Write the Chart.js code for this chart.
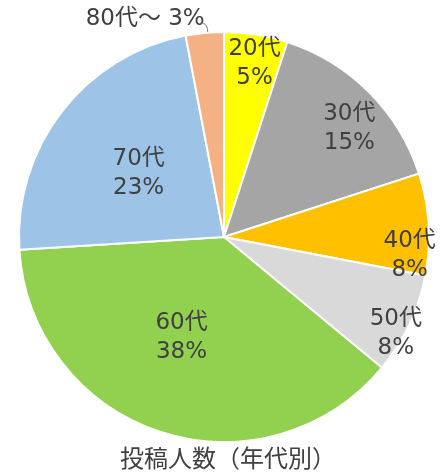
<!DOCTYPE html>
<html>
<head>
<meta charset="utf-8">
<script src="https://cdn.jsdelivr.net/npm/chart.js@4"></script>
<style>
  body { margin: 0; background: #fff; }
</style>
</head>
<body>
<canvas id="ageChart" width="447" height="472"></canvas>
<script>
// data
const ages = ['20代', '30代', '40代', '50代', '60代', '70代', '80代～'];
const shares = [5, 15, 8, 8, 38, 23, 3];
const sliceColors = ['#FFFF00', '#A5A5A5', '#FFC000', '#D9D9D9', '#92D050', '#9DC3E6', '#F4B183'];
const chartTitle = '投稿人数（年代別）';

// label placement: fraction of radius, and small angle nudge (deg)
const labelRadius = [0.86, 0.81, 0.91, 0.96, 0.53, 0.52, null];
const labelNudge = [1, 4, 9, 4, 5, -1, 0];

const FONT = '"DejaVu Sans", "Noto Sans CJK JP", sans-serif';
const TEXT = '#404040';

const labelPlugin = {
    id: 'sliceLabels',
    afterDatasetsDraw(chart) {
        const ctx = chart.ctx;
        const meta = chart.getDatasetMeta(0);
        ctx.save();
        ctx.fillStyle = TEXT;
        ctx.font = '23px ' + FONT;
        ctx.textAlign = 'center';
        ctx.textBaseline = 'middle';
        meta.data.forEach((arc, i) => {
            const p = arc.getProps(['x', 'y', 'startAngle', 'endAngle', 'outerRadius']);
            const mid = (p.startAngle + p.endAngle) / 2 + labelNudge[i] * Math.PI / 180;
            if (labelRadius[i] === null) {
                // outside label with leader line
                const ex = p.x + Math.cos(mid) * p.outerRadius;
                const ey = p.y + Math.sin(mid) * p.outerRadius;
                ctx.textAlign = 'right';
                ctx.fillText(ages[i] + ' ' + shares[i] + '%', ex, ey - 14);
                ctx.strokeStyle = '#7f7f7f';
                ctx.lineWidth = 1;
                ctx.beginPath();
                ctx.moveTo(ex - 4, ey - 10);
                ctx.quadraticCurveTo(ex + 3, ey - 10, ex + 3, ey - 1);
                ctx.stroke();
                ctx.textAlign = 'center';
                return;
            }
            const r = p.outerRadius * labelRadius[i];
            const x = p.x + Math.cos(mid) * r;
            const y = p.y + Math.sin(mid) * r;
            ctx.fillText(ages[i], x, y - 14);
            ctx.fillText(shares[i] + '%', x, y + 15);
        });
        // title under the pie
        ctx.font = '24px "Noto Sans CJK JP", sans-serif';
        ctx.textAlign = 'center';
        ctx.fillText(chartTitle, 228, 458);
        ctx.restore();
    }
};

const ctxAge = document.getElementById('ageChart').getContext('2d');
const ageChart = new Chart(ctxAge, {
    type: 'pie',
    data: {
        labels: ages,
        datasets: [{
            data: shares,
            backgroundColor: sliceColors,
            borderColor: '#FFFFFF',
            borderWidth: 2
        }]
    },
    options: {
        responsive: false,
        animation: false,
        layout: {
            padding: { top: 31, bottom: 29, left: 18, right: 17 }
        },
        plugins: {
            legend: { display: false },
            tooltip: { enabled: false }
        }
    },
    plugins: [labelPlugin]
});
</script>
</body>
</html>
